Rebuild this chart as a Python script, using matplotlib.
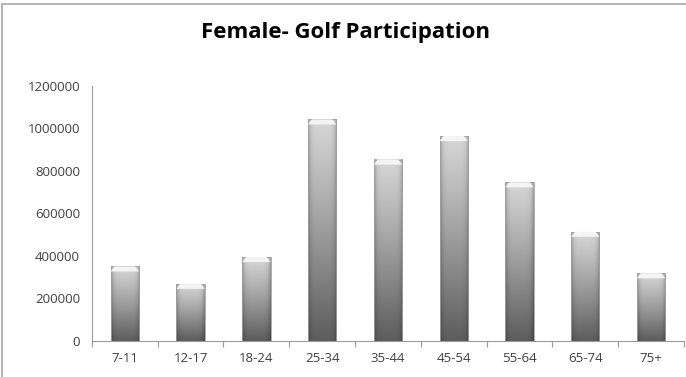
import numpy as np
import matplotlib.pyplot as plt
from matplotlib.patches import Polygon, Rectangle

ages = ["7-11", "12-17", "18-24", "25-34", "35-44", "45-54", "55-64", "65-74", "75+"]
players = [350000, 268000, 394000, 1042000, 853000, 964000, 746000, 513000, 318000]
yticks = [0, 200000, 400000, 600000, 800000, 1000000, 1200000]

plt.rcParams['font.family'] = ["Open Sans", "DejaVu Sans"]

fig = plt.figure(figsize=(6.86, 3.77), dpi=100)
ax = fig.add_axes([0.134, 0.0963, 0.863, 0.676])

# grey frame round the chart area (left and top edges show)
fig.patches.append(Rectangle((0.003, -0.05), 1.2, 1.04, transform=fig.transFigure,
                             fill=False, edgecolor="#a8a8a8", lw=1.2))

width = 0.43
xs = np.arange(len(ages))
ny, nx = 200, 40
u = np.linspace(-1, 1, nx)
side = 1 - 0.25 * np.abs(u) ** 6          # darker rims on both sides
for x, h in zip(xs, players):
    t = np.linspace(0, 1, ny)[:, None]     # 0 = top, 1 = bottom
    shade = (0.84 - 0.48 * t ** 1.1) * side[None, :]
    img = np.dstack([shade, shade, shade])
    ax.imshow(img, extent=(x - width / 2, x + width / 2, 0, h), aspect="auto",
              origin="upper", interpolation="bilinear", zorder=2)
    ax.add_patch(Rectangle((x - width / 2, 0), width, h, fill=False,
                           edgecolor="#a0a0a0", lw=0.6, zorder=3))
    # bevelled cap on top
    cap = 24000
    d = width * 0.14
    ax.add_patch(Polygon([(x - width / 2, h - cap), (x - width / 2 + d, h),
                          (x + width / 2 - d, h), (x + width / 2, h - cap)],
                         closed=True, facecolor="#f4f4f4", edgecolor="none",
                         zorder=4))

ax.set_xlim(-0.5, len(ages) - 0.5)
ax.set_ylim(0, 1200000)
ax.set_yticks(yticks)
ax.set_yticklabels([str(v) for v in yticks])
ax.set_xticks(xs)
ax.set_xticklabels(ages)
ax.set_xticks(np.arange(len(ages) + 1) - 0.5, minor=True)
ax.tick_params(axis="x", which="major", length=0, pad=8, labelsize=9.5, labelcolor="#404040")
ax.tick_params(axis="x", which="minor", length=4, color="#9a9a9a", width=0.8)
ax.tick_params(axis="y", length=0, pad=8.5, labelsize=9.5, labelcolor="#404040")
for s in ["top", "right"]:
    ax.spines[s].set_visible(False)
for s in ["left", "bottom"]:
    ax.spines[s].set_color("#9a9a9a")
    ax.spines[s].set_linewidth(0.8)

fig.text(0.503, 0.913, "Female- Golf Participation", ha="center", va="center",
         fontsize=16, fontweight="bold")

fig.savefig("out.png", dpi=100)
